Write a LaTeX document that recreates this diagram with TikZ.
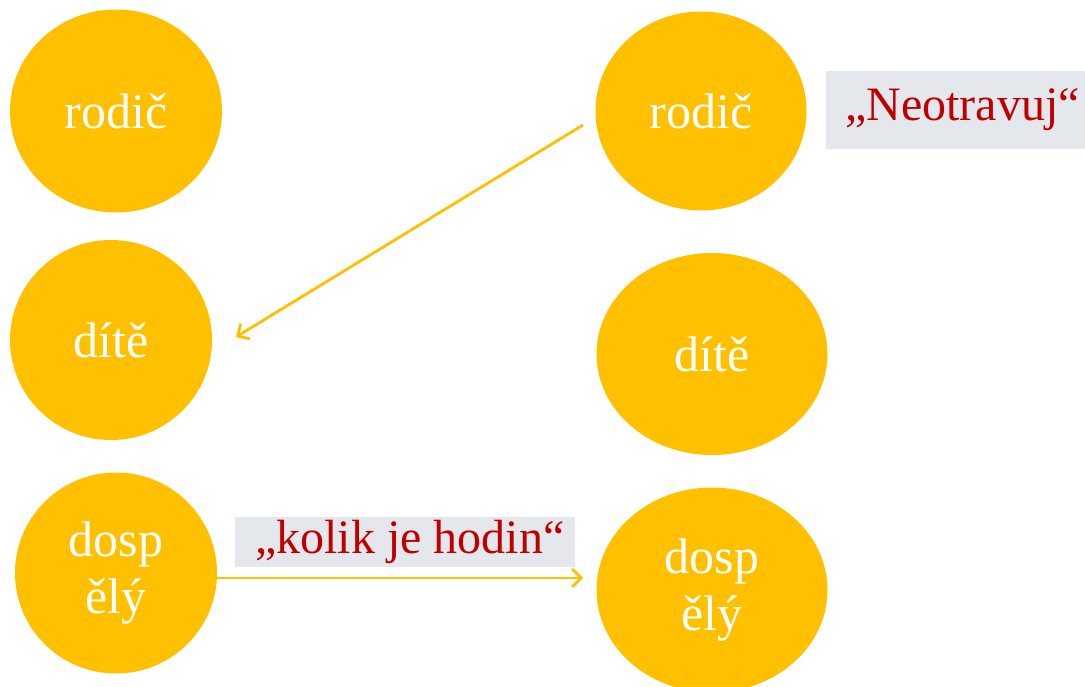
\documentclass[tikz,border=0pt]{standalone}
\usepackage{fontspec}
\setmainfont{Liberation Serif}
\usetikzlibrary{shapes.geometric,arrows.meta}
\definecolor{gold}{HTML}{FFC000}
\definecolor{boxgray}{HTML}{E4E8EC}
\definecolor{darkred}{HTML}{C00000}
\begin{document}
\begin{tikzpicture}[x=1pt,y=-1pt,
  blob/.style={ellipse,fill=gold,draw=none,inner sep=0pt,text=white,
    font=\fontsize{50}{57}\selectfont,align=center},
  quote/.style={fill=boxgray,text=darkred,inner xsep=0pt,inner ysep=0pt,align=flush left,
    font=\fontsize{48}{56}\selectfont},
  link/.style={draw=gold,line width=2.8pt,-{Straight Barb[length=9pt,width=18pt,line width=2.8pt]}}]
\fill[white] (0,0) rectangle (1085,687);
\useasboundingbox (0,0) rectangle (1085,687);
% left column
\node[blob,minimum width=212pt,minimum height=203pt] (rodL) at (116,111) {rodič};
\node[blob,minimum width=202pt,minimum height=200pt] (ditL) at (111,340) {dítě};
\node[blob,minimum width=202pt,minimum height=201pt] (dosL) at (116,573) {dosp\\ělý};
% right column
\node[blob,minimum width=211pt,minimum height=199pt] (rodR) at (701,111) {rodič};
\node[blob,minimum width=231pt,minimum height=202pt] (ditR) at (712,354) {dítě};
\node[blob,minimum width=231pt,minimum height=205pt] (dosR) at (712,590) {dosp\\ělý};
% quote boxes
\node[quote,text width=260pt,minimum height=78pt,anchor=west] (q1) at (826,110) {\hspace*{19pt}\mbox{„Neotravuj“}};
\node[quote,text width=340pt,minimum height=50pt,anchor=west] (q2) at (235,542) {\hspace*{20pt}\mbox{„kolik je hodin“}};
% arrows
\coordinate (a1s) at (583,125);
\coordinate (a1e) at (236,337);
\coordinate (a2s) at (216,578);
\coordinate (a2e) at (583,578);
\draw[link] (a1s) -- (a1e);
\draw[link] (a2s) -- (a2e);
\end{tikzpicture}
\end{document}
